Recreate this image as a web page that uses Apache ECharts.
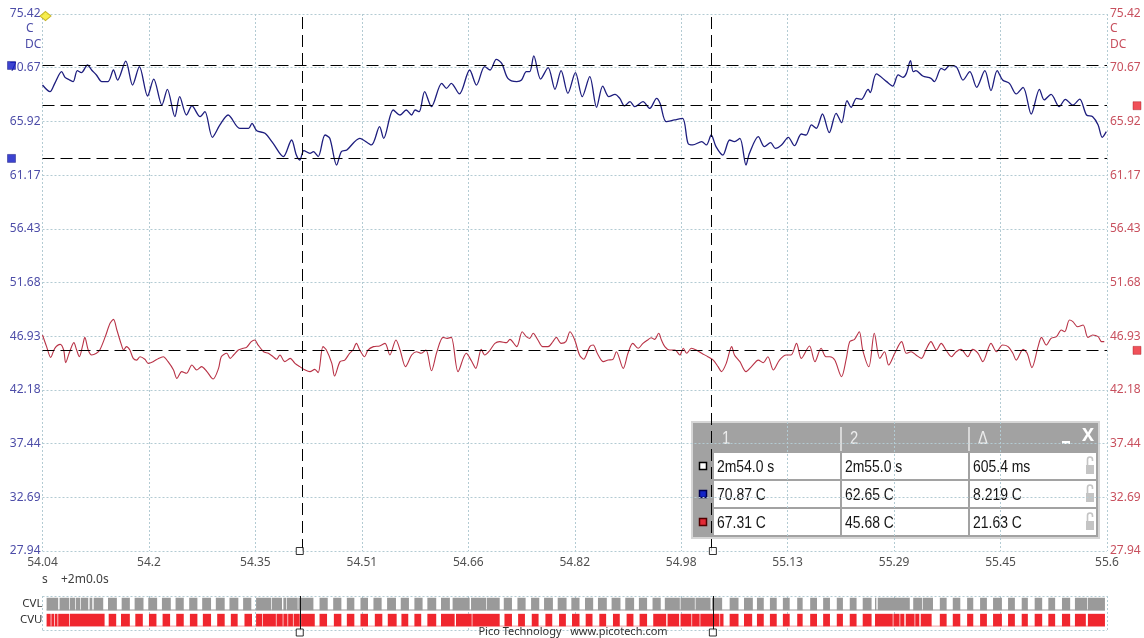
<!DOCTYPE html>
<html>
<head>
<meta charset="utf-8">
<script src="https://cdn.jsdelivr.net/npm/echarts@6/dist/echarts.min.js"></script>
<style>
  html, body { margin: 0; padding: 0; background: #ffffff; }
  #chart { width: 1144px; height: 638px; }
</style>
</head>
<body>
<div id="chart"></div>
<script>
// Time axis (seconds, offset +2m0.0s) and temperature axis (°C)
const xTicks = [54.04, 54.196, 54.352, 54.508, 54.664, 54.82, 54.976, 55.132, 55.288, 55.444, 55.6];
const xTickLabels = ['54.04', '54.2', '54.35', '54.51', '54.66', '54.82', '54.98', '55.13', '55.29', '55.45', '55.6'];
const yTicks = [27.94, 32.688, 37.436, 42.184, 46.932, 51.68, 56.428, 61.176, 65.924, 70.672, 75.42];
const yTickLabels = ['27.94', '32.69', '37.44', '42.18', '46.93', '51.68', '56.43', '61.17', '65.92', '70.67', '75.42'];

// Channel A (blue) – [time s, temperature C]
const channelA = [
  [54.040,69.14],[54.051,68.55],[54.058,69.29],[54.068,70.32],[54.073,69.82],[54.080,69.58],[54.085,69.44],
  [54.091,70.41],[54.097,70.23],[54.106,70.91],[54.112,70.47],[54.119,70.03],[54.127,69.44],[54.136,69.44],
  [54.144,70.47],[54.150,69.58],[54.162,71.26],[54.172,69.14],[54.182,70.76],[54.194,68.17],[54.203,69.67],
  [54.215,67.37],[54.223,68.76],[54.234,66.34],[54.241,68.11],[54.251,66.49],[54.259,67.29],[54.271,66.34],
  [54.278,66.78],[54.289,64.52],[54.300,65.61],[54.312,66.49],[54.329,65.31],[54.342,65.31],[54.347,65.75],
  [54.354,65.10],[54.366,64.87],[54.378,63.98],[54.393,62.81],[54.405,64.28],[54.412,62.95],[54.417,62.51],
  [54.423,63.34],[54.432,63.10],[54.437,63.25],[54.444,62.81],[54.454,64.72],[54.461,64.43],[54.471,62.07],
  [54.478,63.25],[54.486,63.40],[54.505,64.43],[54.522,63.84],[54.534,65.46],
  [54.540,64.43],[54.554,66.93],[54.564,66.49],[54.573,66.93],[54.581,66.49],[54.586,66.93],[54.592,66.78],
  [54.600,68.55],[54.610,67.23],[54.625,69.29],[54.632,68.85],[54.639,69.29],[54.651,68.35],[54.666,70.47],
  [54.676,69.14],[54.688,70.76],[54.696,70.47],[54.705,71.41],[54.713,71.06],[54.722,69.73],[54.735,69.44],
  [54.742,69.58],[54.749,70.32],[54.754,70.32],[54.760,71.71],[54.770,69.67],[54.781,70.68],[54.791,68.76],
  [54.800,70.41],[54.810,68.41],[54.821,70.23],[54.831,68.11],[54.842,69.88],[54.852,67.17],[54.861,69.05],
  [54.870,68.11],[54.879,68.32],[54.886,67.96],[54.893,67.29],[54.901,67.67],[54.908,67.23],[54.920,67.67],
  [54.930,67.08],[54.940,67.96],[54.945,67.52],[54.954,65.90],[54.966,66.05],[54.978,66.20],[54.986,63.98],
  [54.993,63.84],[55.006,64.13],[55.013,63.84],[55.020,64.72],[55.027,63.69],[55.037,62.95],[55.047,64.28],
  [55.054,64.13],[55.062,64.43],
  [55.071,62.07],[55.076,63.10],[55.089,64.57],[55.098,63.69],[55.107,64.04],[55.114,63.54],[55.123,63.84],
  [55.133,64.52],[55.142,63.78],[55.152,64.81],[55.159,64.72],[55.167,65.61],[55.174,65.31],[55.183,66.58],
  [55.193,64.93],[55.203,66.64],[55.211,65.81],[55.219,67.76],[55.225,67.17],[55.233,67.96],[55.240,67.88],
  [55.250,68.76],[55.253,68.46],[55.262,70.12],[55.277,69.44],[55.286,69.05],[55.294,70.03],[55.301,69.82],
  [55.306,70.17],[55.312,71.29],[55.316,70.32],[55.320,70.41],[55.330,69.94],[55.342,69.73],[55.347,69.44],
  [55.357,70.62],[55.362,70.47],[55.369,70.85],[55.379,70.76],[55.389,69.58],[55.399,70.32],[55.409,68.94],
  [55.421,70.41],[55.430,68.64],[55.439,70.41],[55.447,69.58],[55.457,69.29],[55.467,68.35],[55.477,68.94],
  [55.489,66.58],[55.501,68.76],[55.508,67.82],[55.518,68.32],[55.530,67.23],[55.539,67.88],[55.550,67.37],
  [55.560,67.90],[55.570,66.49],[55.579,66.34],[55.587,65.61],[55.593,64.52],[55.599,65.02]
];

// Channel B (red) – [time s, temperature C]
const channelB = [
  [54.040,47.04],[54.046,46.01],[54.052,45.06],[54.058,45.86],[54.066,46.21],[54.071,45.71],[54.074,44.59],
  [54.079,45.42],[54.086,46.36],[54.090,45.71],[54.094,45.12],[54.099,46.15],[54.102,46.83],[54.107,45.71],
  [54.112,45.27],[54.119,45.42],[54.124,45.71],[54.132,46.89],[54.139,48.07],[54.144,48.42],[54.149,47.48],
  [54.155,46.30],[54.159,45.71],[54.163,46.01],[54.168,45.71],[54.173,44.97],[54.178,44.82],[54.183,45.12],
  [54.190,44.89],[54.195,44.53],[54.202,44.68],[54.210,44.97],[54.217,45.12],[54.224,44.68],[54.232,43.94],
  [54.237,43.20],[54.244,43.80],[54.251,43.65],[54.259,44.38],[54.266,43.94],[54.273,44.24],[54.281,43.80],
  [54.290,43.15],[54.298,44.09],[54.302,45.12],[54.310,45.42],[54.315,44.97],[54.320,45.27],[54.327,45.71],
  [54.334,45.86],[54.339,45.95],[54.346,46.45],[54.351,46.60],[54.356,46.15],[54.364,45.56],[54.371,45.42],
  [54.378,45.12],[54.383,44.89],[54.388,45.27],[54.395,44.68],[54.403,44.97],[54.410,44.53],[54.417,44.24],
  [54.425,43.94],[54.432,43.80],[54.439,44.00],[54.444,43.71],[54.451,46.01],[54.456,45.71],[54.464,44.53],
  [54.468,43.41],[54.476,44.68],[54.483,44.82],[54.490,45.42],[54.495,45.71],[54.500,46.30],[54.505,45.71],
  [54.512,45.12],[54.517,45.71],[54.525,46.01],[54.534,46.07],
  [54.542,46.30],[54.549,45.27],[54.558,46.60],[54.564,45.71],[54.572,44.24],[54.581,45.27],[54.588,45.56],
  [54.595,45.42],[54.602,45.71],[54.610,43.88],[54.618,45.56],[54.627,46.83],[54.633,46.74],[54.639,46.83],
  [54.649,43.80],[54.661,45.42],[54.668,44.82],[54.675,44.09],[54.683,45.77],[54.688,45.27],[54.696,45.71],
  [54.703,46.30],[54.710,46.45],[54.720,46.36],[54.725,46.65],[54.735,46.01],[54.743,47.33],[54.749,46.89],
  [54.754,46.74],[54.759,47.19],[54.766,46.60],[54.773,46.01],[54.781,46.01],[54.788,46.45],[54.793,46.83],
  [54.800,46.30],[54.807,46.45],[54.813,47.33],[54.820,46.60],[54.827,45.27],[54.833,44.89],[54.842,46.01],
  [54.847,46.15],[54.853,45.42],[54.862,44.68],[54.869,44.82],[54.876,44.89],[54.881,45.56],[54.891,44.09],
  [54.898,45.42],[54.905,46.30],[54.913,45.86],[54.920,46.30],[54.927,46.60],[54.932,46.80],[54.937,46.65],
  [54.943,47.19],[54.947,46.60],[54.952,46.01],[54.959,45.71],[54.967,45.71],[54.974,45.27],[54.979,45.86],
  [54.984,45.42],[54.991,45.86],[54.998,45.71],[55.006,45.42],[55.015,45.12],[55.023,44.82],[55.030,44.24],
  [55.035,43.80],[55.042,44.53],[55.050,46.01],[55.054,45.27],[55.062,44.68],
  [55.071,43.80],[55.079,44.24],[55.089,44.82],[55.096,44.59],[55.103,45.12],[55.111,43.94],[55.120,44.82],
  [55.130,45.27],[55.137,45.27],[55.145,46.30],[55.152,44.97],[55.164,46.07],[55.172,44.68],[55.181,45.86],
  [55.188,45.12],[55.194,45.12],[55.201,44.82],[55.211,43.35],[55.218,44.97],[55.223,46.45],[55.230,46.65],
  [55.237,47.33],[55.242,45.71],[55.251,44.24],[55.259,47.19],[55.267,44.97],[55.274,45.56],[55.280,44.38],
  [55.289,45.42],[55.299,46.45],[55.306,45.42],[55.313,45.56],[55.320,45.27],[55.328,44.97],[55.335,45.77],
  [55.342,46.45],[55.350,45.71],[55.357,46.30],[55.364,45.71],[55.372,45.12],[55.379,45.56],[55.386,45.77],
  [55.396,45.12],[55.403,45.77],[55.411,45.42],[55.418,44.68],[55.430,46.30],[55.438,45.56],[55.447,46.15],
  [55.455,46.01],[55.462,45.42],[55.467,44.82],[55.477,45.77],[55.483,45.42],[55.490,44.15],[55.499,46.01],
  [55.504,46.83],[55.511,46.15],[55.518,46.74],[55.526,46.89],[55.533,47.48],[55.538,47.33],[55.545,48.36],
  [55.550,48.22],[55.557,47.77],[55.565,47.92],[55.572,46.83],[55.579,47.04],[55.587,46.89],[55.592,46.45],
  [55.596,46.45]
];

// Cursors: two time rulers and two level rulers per channel
const cursorTimes = [54.417, 55.0224];
const cursorA = [70.87, 62.65];
const cursorB = [67.31, 45.68];
const timeReadout = ['2m54.0 s', '2m55.0 s', '605.4 ms'];
const deltaA = '8.219 C';
const deltaB = '21.63 C';

// Digital channels: intervals [start s, end s] where the line is high
const digitalNames = ['CVL', 'CVU'];
const cvlHigh = [
  [54.046,54.063],[54.065,54.079],[54.080,54.088],[54.089,54.095],[54.096,54.107],[54.109,54.113],[54.115,54.129],
  [54.136,54.149],[54.156,54.168],[54.175,54.188],[54.195,54.208],[54.215,54.228],[54.235,54.247],[54.255,54.267],
  [54.274,54.287],[54.294,54.307],[54.314,54.327],[54.334,54.346],
  [54.353,54.375],[54.376,54.391],[54.393,54.397],[54.398,54.414],[54.415,54.437],
  [54.446,54.458],[54.466,54.478],[54.486,54.497],[54.506,54.517],[54.525,54.537],[54.545,54.558],[54.565,54.577],
  [54.585,54.597],[54.604,54.617],[54.624,54.637],
  [54.641,54.666],[54.668,54.690],[54.691,54.710],
  [54.716,54.728],[54.736,54.748],[54.756,54.768],[54.775,54.788],[54.795,54.808],[54.815,54.827],[54.835,54.847],
  [54.854,54.867],[54.874,54.887],[54.894,54.907],[54.914,54.926],[54.934,54.946],
  [54.952,54.974],[54.975,54.996],[54.997,55.019],
  [55.021,55.036],[55.047,55.060],[55.068,55.081],[55.087,55.097],[55.106,55.116],[55.125,55.135],[55.146,55.154],
  [55.165,55.175],[55.184,55.194],[55.204,55.213],[55.223,55.233],[55.242,55.255],
  [55.260,55.262],[55.264,55.311],
  [55.316,55.329],[55.330,55.345],[55.355,55.365],[55.374,55.385],[55.395,55.404],[55.414,55.424],[55.433,55.446],
  [55.455,55.465],[55.475,55.484],[55.494,55.505],[55.514,55.524],[55.534,55.546],[55.553,55.571],[55.572,55.597]
];
const cvuHigh = [
  [54.046,54.052],[54.053,54.057],[54.058,54.062],[54.063,54.079],[54.080,54.131],
  [54.137,54.148],[54.155,54.168],[54.176,54.187],[54.196,54.207],[54.216,54.227],[54.236,54.247],[54.256,54.267],
  [54.275,54.287],[54.296,54.307],[54.316,54.326],[54.336,54.347],
  [54.353,54.362],[54.363,54.382],[54.383,54.392],[54.393,54.399],[54.400,54.407],[54.408,54.417],
  [54.419,54.439],[54.446,54.457],[54.467,54.478],[54.486,54.497],[54.506,54.517],[54.527,54.538],[54.546,54.559],
  [54.566,54.576],[54.585,54.595],[54.604,54.617],
  [54.624,54.644],[54.646,54.669],[54.670,54.710],
  [54.717,54.728],[54.737,54.747],[54.757,54.767],[54.777,54.787],[54.797,54.807],[54.816,54.827],[54.836,54.846],
  [54.856,54.866],[54.876,54.886],[54.896,54.906],[54.915,54.926],
  [54.935,54.954],[54.956,54.973],[54.975,54.991],[54.992,55.003],[55.004,55.032],[55.033,55.038],
  [55.047,55.060],[55.068,55.080],[55.087,55.097],[55.106,55.116],[55.125,55.135],[55.146,55.154],[55.165,55.175],
  [55.184,55.194],[55.204,55.213],[55.223,55.233],[55.242,55.255],
  [55.260,55.286],[55.287,55.296],[55.297,55.303],[55.305,55.318],[55.319,55.325],[55.327,55.343],
  [55.355,55.365],[55.374,55.385],[55.395,55.404],[55.414,55.424],[55.433,55.446],[55.455,55.465],[55.475,55.484],
  [55.494,55.505],[55.514,55.524],[55.534,55.546],[55.553,55.569],[55.572,55.597]
];

const COL_A = '#1d1d7e';
const COL_B = '#b83246';
const LABEL_A = '#4d4da8';
const LABEL_B = '#c8505e';
const GRID_LINE = { show: true, lineStyle: { color: '#b3cbd3', type: [2, 2], width: 1 } };
const UI_FONT = "'Noto Sans', 'DejaVu Sans', sans-serif";
const TABLE_FONT = "'Liberation Sans', Arial, sans-serif";
const DIG_ROWS = [0.5, 1.5];
const DIG_MAX = 2.15;

function tickLabel(ticks, labels) {
  return function (v) {
    const i = ticks.findIndex(t => Math.abs(t - v) < 1e-6);
    return i >= 0 ? labels[i] : '';
  };
}

function pulseRenderer(color) {
  return function (params, api) {
    const a = api.coord([api.value(0), api.value(2)]);
    const b = api.coord([api.value(1), api.value(2)]);
    const h = 12.5;
    return {
      type: 'rect',
      shape: { x: a[0], y: a[1] - h / 2, width: Math.max(b[0] - a[0], 0.8), height: h },
      style: { fill: color }
    };
  };
}

function baselineRenderer(color) {
  return function (params, api) {
    const a = api.coord([api.value(0), api.value(2)]);
    const b = api.coord([api.value(1), api.value(2)]);
    const yy = a[1] + 6;
    return {
      type: 'line',
      shape: { x1: a[0], y1: yy, x2: b[0], y2: yy },
      style: { stroke: color, lineWidth: 1 }
    };
  };
}

function digitalCursorRenderer(params, api) {
  const p = api.coord([api.value(0), 0]);
  const cs = params.coordSys;
  return {
    type: 'line',
    shape: { x1: Math.round(p[0]) + 0.5, y1: cs.y, x2: Math.round(p[0]) + 0.5, y2: cs.y + cs.height },
    style: { stroke: '#111', lineWidth: 1 }
  };
}

// condensed readout text (horizontally compressed sans)
function narrowText(x, y, txt, fill, size) {
  return {
    type: 'text', x: x, y: y, scaleX: 0.82, scaleY: 1,
    style: { text: txt, fill: fill, font: size + 'px ' + TABLE_FONT, verticalAlign: 'middle' }
  };
}

// Readout table overlay (cursor values)
function buildTable() {
  const ox = 692, oy = 422;
  const colX = [22, 150, 278];
  const colW = 126;
  const rowY = [31, 59, 87];
  const rowH = 26;
  const rows = [
    timeReadout,
    [cursorA[0].toFixed(2) + ' C', cursorA[1].toFixed(2) + ' C', deltaA],
    [cursorB[0].toFixed(2) + ' C', cursorB[1].toFixed(2) + ' C', deltaB]
  ];
  const icons = [
    { fill: '#ffffff', stroke: '#000000' },
    { fill: '#1424c8', stroke: '#000050' },
    { fill: '#e22a36', stroke: '#500000' }
  ];
  const ch = [];
  ch.push({ type: 'rect', shape: { x: 0, y: 0, width: 407, height: 116 },
    style: { fill: '#a2a2a2', stroke: '#d6d6d6', lineWidth: 2 } });
  // header
  ['1', '2', '\u0394'].forEach((t, i) => {
    ch.push(narrowText(colX[i] + 8, 17, t, '#ececec', 18));
  });
  [149, 277].forEach(x => {
    ch.push({ type: 'line', shape: { x1: x, y1: 5, x2: x, y2: 29 }, style: { stroke: '#d8d8d8', lineWidth: 2 } });
  });
  ch.push({ type: 'rect', shape: { x: 370, y: 19, width: 8, height: 3 }, style: { fill: '#ffffff' } });
  ch.push({ type: 'text', x: 396, y: 14, style: { text: 'X', fill: '#ffffff', font: 'bold 18px ' + UI_FONT,
    align: 'center', verticalAlign: 'middle' } });
  // body
  rows.forEach((r, ri) => {
    const y = rowY[ri];
    r.forEach((txt, ci) => {
      ch.push({ type: 'rect', shape: { x: colX[ci], y: y, width: colW, height: rowH }, style: { fill: '#ffffff' } });
      ch.push(narrowText(colX[ci] + 3, y + rowH / 2 + 1, txt, '#151515', 17));
    });
    ch.push({ type: 'rect', shape: { x: 7.5, y: y + 9.5, width: 7, height: 7 },
      style: { fill: icons[ri].fill, stroke: icons[ri].stroke, lineWidth: 1.5 } });
    // open padlock
    ch.push({ type: 'rect', shape: { x: 394, y: y + 12, width: 8, height: 9 }, style: { fill: '#c4c4c4' } });
    ch.push({ type: 'rect', shape: { x: 395.5, y: y + 4, width: 5, height: 9, r: [2.5, 2.5, 0, 0] },
      style: { fill: 'none', stroke: '#c4c4c4', lineWidth: 1.6 } });
    ch.push({ type: 'rect', shape: { x: 399, y: y + 8, width: 4, height: 4 }, style: { fill: '#ffffff' } });
  });
  return { type: 'group', x: ox, y: oy, z: 100, children: ch };
}

const chart = echarts.init(document.getElementById('chart'), null, { renderer: 'canvas' });

const option = {
  backgroundColor: '#ffffff',
  animation: false,
  textStyle: { fontFamily: UI_FONT },
  grid: [
    { left: 42.5, right: 37, top: 14, bottom: 87 },
    { left: 42.5, right: 37, top: 596, height: 34.5 }
  ],
  xAxis: [
    {
      type: 'value', gridIndex: 0, min: xTicks[0], max: xTicks[xTicks.length - 1],
      axisLine: { show: false },
      axisTick: { show: false, customValues: xTicks },
      axisLabel: { customValues: xTicks, formatter: tickLabel(xTicks, xTickLabels),
        color: '#505050', fontSize: 12, margin: 6, fontFamily: UI_FONT },
      splitLine: GRID_LINE
    },
    {
      type: 'value', gridIndex: 1, min: xTicks[0], max: xTicks[xTicks.length - 1],
      axisLine: { show: false },
      axisTick: { show: false, customValues: xTicks },
      axisLabel: { show: false },
      splitLine: GRID_LINE
    }
  ],
  yAxis: [
    {
      type: 'value', gridIndex: 0, position: 'left', min: yTicks[0], max: yTicks[yTicks.length - 1],
      axisLine: { show: false },
      axisTick: { show: false, customValues: yTicks },
      axisLabel: { customValues: yTicks, formatter: tickLabel(yTicks, yTickLabels),
        color: LABEL_A, fontSize: 12, margin: 2, fontFamily: UI_FONT },
      splitLine: GRID_LINE
    },
    {
      type: 'value', gridIndex: 0, position: 'right', min: yTicks[0], max: yTicks[yTicks.length - 1],
      axisLine: { show: false },
      axisTick: { show: false, customValues: yTicks },
      axisLabel: { customValues: yTicks, formatter: tickLabel(yTicks, yTickLabels),
        color: LABEL_B, fontSize: 12, margin: 3, fontFamily: UI_FONT },
      splitLine: { show: false }
    },
    {
      type: 'value', gridIndex: 1, min: 0, max: DIG_MAX, inverse: true,
      axisLine: { show: false },
      axisTick: { show: false, customValues: [0, DIG_MAX] },
      axisLabel: { customValues: DIG_ROWS, formatter: v => digitalNames[DIG_ROWS.indexOf(v)] || '',
        color: '#333333', fontSize: 11.5, margin: 0, fontFamily: UI_FONT },
      splitLine: GRID_LINE
    }
  ],
  series: [
    {
      name: 'A', type: 'line', xAxisIndex: 0, yAxisIndex: 0, data: channelA,
      showSymbol: false, smooth: 0.3, lineStyle: { color: COL_A, width: 1.3 }, z: 3,
      markLine: {
        silent: true, symbol: 'none', label: { show: false },
        lineStyle: { color: '#000000', type: [12, 6], width: 1 },
        data: cursorA.map(v => ({ yAxis: v })).concat(cursorTimes.map(t => ({ xAxis: t })))
      }
    },
    {
      name: 'B', type: 'line', xAxisIndex: 0, yAxisIndex: 1, data: channelB,
      showSymbol: false, smooth: 0.3, lineStyle: { color: COL_B, width: 1.1 }, z: 3,
      markLine: {
        silent: true, symbol: 'none', label: { show: false },
        lineStyle: { color: '#000000', type: [12, 6], width: 1 },
        data: cursorB.map(v => ({ yAxis: v }))
      }
    },
    // level-ruler handles on the axes
    {
      type: 'scatter', xAxisIndex: 0, yAxisIndex: 0, clip: false, silent: true, z: 6,
      data: cursorA.map(v => [xTicks[0], v]), symbol: 'rect', symbolSize: 8, symbolOffset: [-31, 0],
      itemStyle: { color: '#0b14c4', borderColor: '#00006a', borderWidth: 0.5 }
    },
    {
      type: 'scatter', xAxisIndex: 0, yAxisIndex: 1, clip: false, silent: true, z: 6,
      data: cursorB.map(v => [xTicks[xTicks.length - 1], v]), symbol: 'rect', symbolSize: 8, symbolOffset: [30, 0],
      itemStyle: { color: '#ec2630', borderColor: '#a01018', borderWidth: 0.5 }
    },
    // trigger marker
    {
      type: 'scatter', xAxisIndex: 0, yAxisIndex: 0, clip: false, silent: true, z: 7,
      data: [[xTicks[0], yTicks[yTicks.length - 1]]], symbol: 'diamond', symbolSize: [11, 9], symbolOffset: [3, 2],
      itemStyle: { color: '#f6ea22', borderColor: '#b8a400', borderWidth: 1 }
    },
    // time-ruler handles
    {
      type: 'scatter', xAxisIndex: 0, yAxisIndex: 0, clip: false, silent: true, z: 6,
      data: cursorTimes.map(t => [t, yTicks[0]]), symbol: 'rect', symbolSize: 7,
      itemStyle: { color: '#ffffff', borderColor: '#000000', borderWidth: 1 }
    },
    {
      type: 'scatter', xAxisIndex: 1, yAxisIndex: 2, clip: false, silent: true, z: 6,
      data: cursorTimes.map(t => [t, DIG_MAX]), symbol: 'rect', symbolSize: 7, symbolOffset: [0, 2],
      itemStyle: { color: '#ffffff', borderColor: '#000000', borderWidth: 1 }
    },
    // digital channels
    {
      type: 'custom', xAxisIndex: 1, yAxisIndex: 2, silent: true, z: 2,
      renderItem: baselineRenderer('#9a9a9a'),
      data: [[cvlHigh[0][0], cvlHigh[cvlHigh.length - 1][1], DIG_ROWS[0]]]
    },
    {
      type: 'custom', xAxisIndex: 1, yAxisIndex: 2, silent: true, z: 2,
      renderItem: baselineRenderer('#f0a0a4'),
      data: [[cvuHigh[0][0], cvuHigh[cvuHigh.length - 1][1], DIG_ROWS[1]]]
    },
    {
      type: 'custom', xAxisIndex: 1, yAxisIndex: 2, silent: true, z: 3,
      renderItem: pulseRenderer('#9a9a9a'),
      data: cvlHigh.map(d => [d[0], d[1], DIG_ROWS[0]])
    },
    {
      type: 'custom', xAxisIndex: 1, yAxisIndex: 2, silent: true, z: 3,
      renderItem: pulseRenderer('#f0262e'),
      data: cvuHigh.map(d => [d[0], d[1], DIG_ROWS[1]])
    },
    {
      type: 'custom', xAxisIndex: 1, yAxisIndex: 2, silent: true, z: 4,
      renderItem: digitalCursorRenderer,
      data: cursorTimes.map(t => [t])
    }
  ],
  graphic: [
    { type: 'text', x: 26, y: 29, style: { text: 'C', fill: LABEL_A, font: '12px ' + UI_FONT, verticalAlign: 'middle' } },
    { type: 'text', x: 25, y: 45, style: { text: 'DC', fill: LABEL_A, font: '12px ' + UI_FONT, verticalAlign: 'middle' } },
    { type: 'text', x: 1110, y: 29, style: { text: 'C', fill: LABEL_B, font: '12px ' + UI_FONT, verticalAlign: 'middle' } },
    { type: 'text', x: 1110, y: 45, style: { text: 'DC', fill: LABEL_B, font: '12px ' + UI_FONT, verticalAlign: 'middle' } },
    { type: 'text', x: 42, y: 580, style: { text: 's', fill: '#404040', font: '12px ' + UI_FONT, verticalAlign: 'middle' } },
    { type: 'text', x: 61, y: 580, style: { text: '+2m0.0s', fill: '#404040', font: '12px ' + UI_FONT, verticalAlign: 'middle' } },
    { type: 'text', x: 573, y: 632, z: 10, style: { text: 'Pico Technology   www.picotech.com', fill: '#303030',
      font: '11px ' + UI_FONT, align: 'center', verticalAlign: 'middle' } },
    buildTable()
  ]
};

chart.setOption(option);
</script>
</body>
</html>
